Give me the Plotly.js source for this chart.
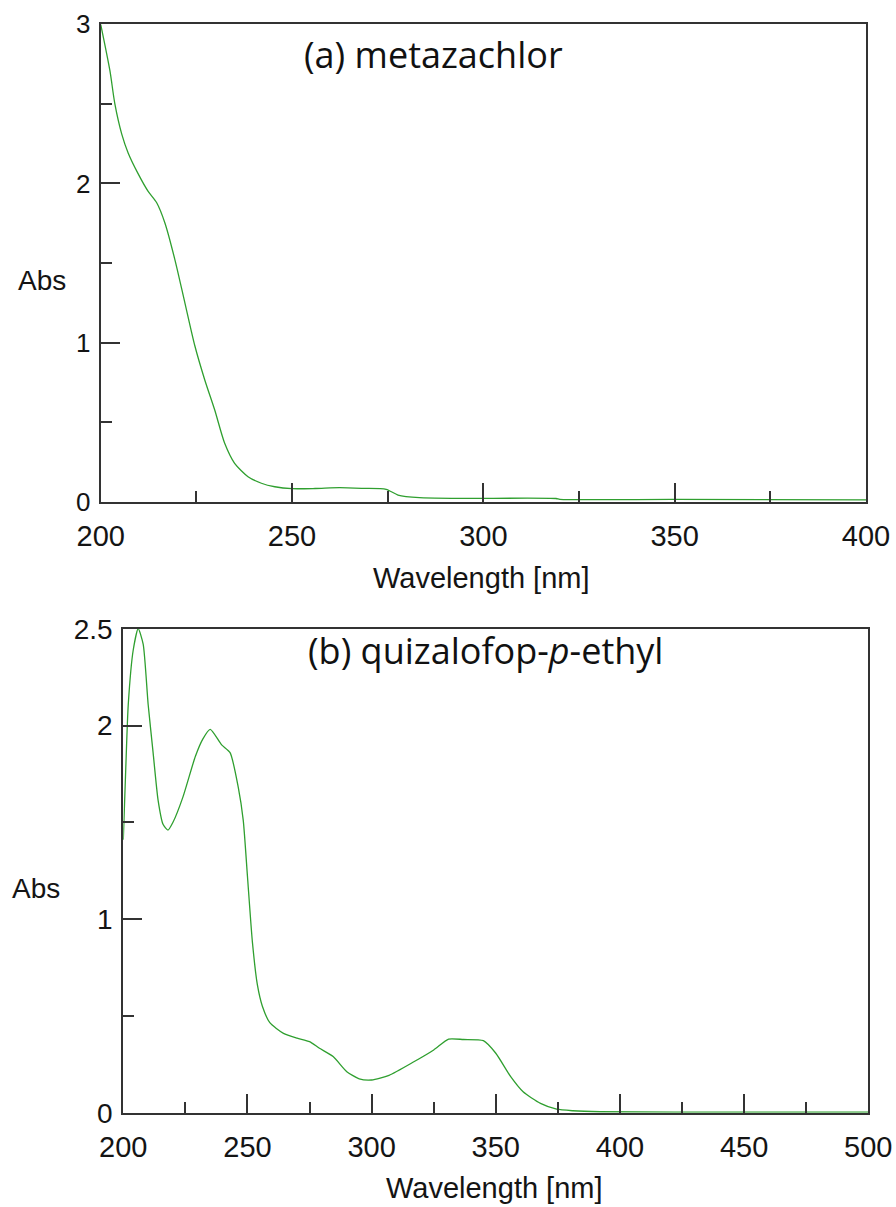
<!DOCTYPE html>
<html>
<head>
<meta charset="utf-8">
<script src="https://cdn.plot.ly/plotly-3.0.1.min.js"></script>
<style>
  html, body { margin: 0; padding: 0; background: #ffffff; }
  #chart { width: 896px; height: 1207px; }
</style>
</head>
<body>
<div id="chart"></div>
<script>
// ---- Data: (a) metazachlor ----
const wavelengthA = [200, 202.4, 203.7, 205.5, 207.2, 209.8, 212.4, 214.6, 216.8, 219.4, 222, 224.6, 227.2, 229.8, 232.4, 235, 238.5, 242, 245.5, 250, 256, 262.4, 268.5, 274.6, 277.7, 283.3, 293.8, 319, 320, 350, 400];
const absA = [3.0, 2.71, 2.50, 2.31, 2.19, 2.06, 1.95, 1.88, 1.75, 1.52, 1.25, 0.98, 0.765, 0.576, 0.367, 0.241, 0.157, 0.116, 0.094, 0.082, 0.083, 0.088, 0.084, 0.078, 0.042, 0.025, 0.021, 0.02, 0.015, 0.014, 0.012];

// ---- Data: (b) quizalofop-p-ethyl ----
const wavelengthB = [200, 201, 202, 204, 206, 208, 210, 212, 214, 216, 218, 220, 224, 229, 232, 235, 239.6, 243, 246.3, 248.3, 250, 252, 254, 256, 259, 264.5, 270, 275, 279, 284.5, 290, 295, 300, 307, 317, 325, 331, 337, 345, 350, 356, 361, 368, 374.5, 381, 392, 450, 500];
const absB = [1.41, 1.78, 2.11, 2.39, 2.50, 2.42, 2.11, 1.86, 1.615, 1.49, 1.46, 1.50, 1.63, 1.84, 1.93, 1.98, 1.90, 1.86, 1.68, 1.51, 1.22, 0.88, 0.66, 0.55, 0.465, 0.41, 0.385, 0.367, 0.333, 0.29, 0.212, 0.175, 0.169, 0.193, 0.263, 0.324, 0.38, 0.378, 0.372, 0.307, 0.186, 0.108, 0.048, 0.018, 0.01, 0.005, 0.003, 0.003];

// ---- Tick labels ----
const xTicksA = [200, 250, 300, 350, 400];
const xMinorA = [225, 275, 325, 375];
const yTicksA = [0, 1, 2, 3];
const yMinorA = [0.5, 1.5, 2.5];
const xTicksB = [200, 250, 300, 350, 400, 450, 500];
const xMinorB = [225, 275, 325, 375, 425, 475];
const yTicksB = [0, 1, 2, 2.5];
const yMinorB = [0.5, 1.5];

const titleA = "(a) metazachlor";
const titleB = "(b) quizalofop-<i>p</i>-ethyl";
const xTitle = "Wavelength [nm]";
const yTitle = "Abs";

const W = 896, H = 1207;
const lineCol = "#333333";
const tickFont = {family: "Liberation Sans, Arial, sans-serif", size: 29, color: "#141414"};
const greenCol = "#2f9f2f";

function px(x) { return x / W; }
function py(y) { return 1 - y / H; }

const traces = [
  {x: wavelengthA, y: absA, xaxis: "x", yaxis: "y", mode: "lines",
   line: {color: greenCol, width: 1.3, shape: "spline", smoothing: 0.7}, hoverinfo: "x+y"},
  {x: wavelengthB, y: absB, xaxis: "x2", yaxis: "y2", mode: "lines",
   line: {color: greenCol, width: 1.3, shape: "spline", smoothing: 0.6}, hoverinfo: "x+y"}
];

function xAxis(domain, range, ticks, minor, anchor) {
  return {
    domain: domain, range: range, anchor: anchor,
    showline: true, linecolor: lineCol, linewidth: 2, mirror: true,
    showgrid: false, zeroline: false,
    tickmode: "array", tickvals: ticks, ticktext: ticks.map(String),
    ticks: "inside", ticklen: 19, tickwidth: 2, tickcolor: lineCol,
    ticklabelstandoff: 7,
    minor: {tickmode: "array", tickvals: minor, ticks: "inside", ticklen: 11, tickwidth: 2, tickcolor: lineCol, showgrid: false},
    tickfont: tickFont, fixedrange: true
  };
}
function yAxis(domain, range, ticks, minor, anchor, fsize) {
  return {
    domain: domain, range: range, anchor: anchor,
    showline: true, linecolor: lineCol, linewidth: 2, mirror: true,
    showgrid: false, zeroline: false,
    tickmode: "array", tickvals: ticks, ticktext: ticks.map(String),
    ticks: "inside", ticklen: 19, tickwidth: 2, tickcolor: lineCol,
    ticklabelstandoff: 3,
    minor: {tickmode: "array", tickvals: minor, ticks: "inside", ticklen: 11, tickwidth: 2, tickcolor: lineCol, showgrid: false},
    tickfont: Object.assign({}, tickFont, {size: fsize}), fixedrange: true
  };
}

const layout = {
  width: W, height: H,
  margin: {l: 0, r: 0, t: 0, b: 0, pad: 0},
  paper_bgcolor: "#ffffff", plot_bgcolor: "#ffffff",
  showlegend: false,
  font: {family: "Liberation Sans, Arial, sans-serif", color: "#141414"},
  xaxis: xAxis([px(100.7), px(866)], [200, 400], xTicksA, xMinorA, "y"),
  yaxis: yAxis([py(501.7), py(24.3)], [0, 3], yTicksA, yMinorA, "x", 26),
  xaxis2: xAxis([px(123.3), px(868.3)], [200, 500], xTicksB, xMinorB, "y2"),
  yaxis2: yAxis([py(1112.7), py(628.7)], [0, 2.5], yTicksB, yMinorB, "x2", 28),
  annotations: [
    {text: titleA, x: px(433), y: py(54), xref: "paper", yref: "paper", showarrow: false,
     xanchor: "center", yanchor: "middle", font: {family: "Open Sans, sans-serif", size: 36, color: "#111"}},
    {text: titleB, x: px(485), y: py(650), xref: "paper", yref: "paper", showarrow: false,
     xanchor: "center", yanchor: "middle", font: {family: "Open Sans, sans-serif", size: 36, color: "#111"}},
    {text: yTitle, x: px(41.7), y: py(281), xref: "paper", yref: "paper", showarrow: false,
     xanchor: "center", yanchor: "middle", font: {size: 28, color: "#141414"}},
    {text: yTitle, x: px(36), y: py(888), xref: "paper", yref: "paper", showarrow: false,
     xanchor: "center", yanchor: "middle", font: {size: 28, color: "#141414"}},
    {text: xTitle, x: px(481.3), y: py(578), xref: "paper", yref: "paper", showarrow: false,
     xanchor: "center", yanchor: "middle", font: {size: 29, color: "#141414"}},
    {text: xTitle, x: px(495), y: py(1188), xref: "paper", yref: "paper", showarrow: false,
     xanchor: "center", yanchor: "middle", font: {size: 29, color: "#141414"}}
  ]
};

Plotly.newPlot("chart", traces, layout, {displayModeBar: false, staticPlot: true});
</script>
</body>
</html>
